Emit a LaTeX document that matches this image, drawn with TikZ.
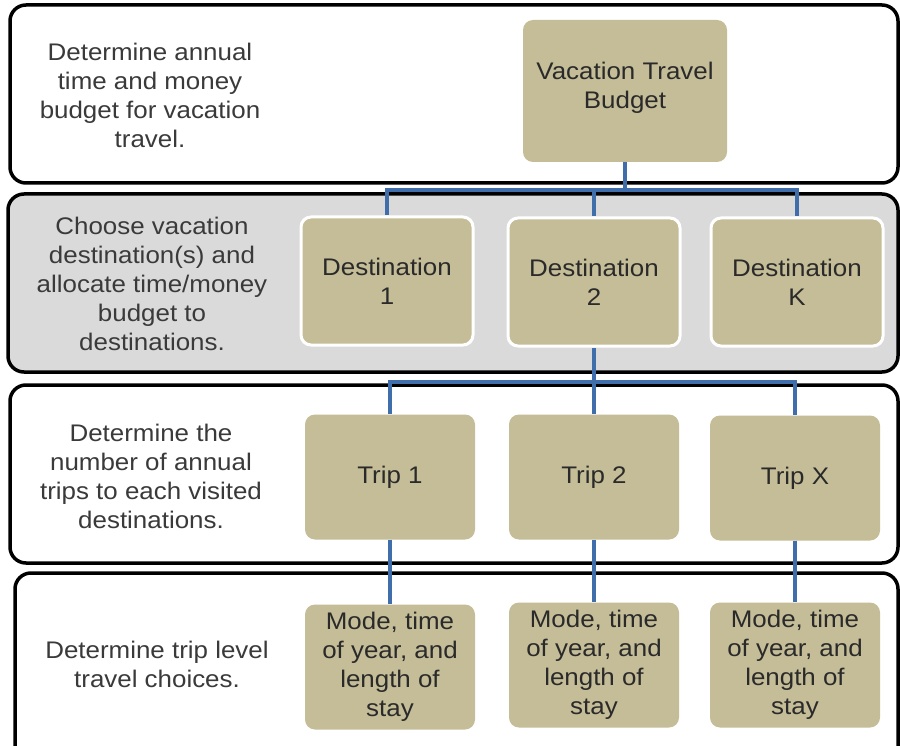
\documentclass[tikz,border=0pt]{standalone}
\usepackage{fontspec}
\setmainfont{Liberation Sans}[FakeStretch=1.08]
\definecolor{tanc}{HTML}{C4BD97}
\definecolor{bandgray}{HTML}{DADADA}
\definecolor{linec}{HTML}{3F6EAA}
\definecolor{labc}{HTML}{3A3A3A}
\definecolor{boxtxt}{HTML}{2A2A2A}
\tikzset{
  band/.style={draw=black, line width=3.5pt, rounded corners=16pt},
  tanbox/.style={fill=tanc, draw=none, rounded corners=10pt, align=center,
    text=boxtxt, font=\fontsize{24}{29}\selectfont, inner sep=0pt},
  destbox/.style={tanbox, draw=white, line width=3pt, minimum width=172pt, minimum height=128pt},
  tripbox/.style={tanbox, minimum width=170pt, minimum height=125pt},
  lab/.style={align=center, text=labc, font=\fontsize{24}{29}\selectfont, inner sep=0pt},
  conn/.style={draw=linec, line width=3.8pt}
}
\begin{document}
\begin{tikzpicture}[x=1pt,y=-1pt]
\useasboundingbox (0,0) rectangle (900,746);
\begin{scope}
\clip (0,0) rectangle (900,746);
% bands
\draw[band, fill=white] (10,5) rectangle (898,183);
\draw[band, fill=bandgray] (8,194) rectangle (898,372);
\draw[band, fill=white] (10,385) rectangle (898,563);
\draw[band, fill=white] (15,573) rectangle (898,780);
\end{scope}
% left labels
\node[lab] (l1) at (150,95) {Determine annual\\time and money\\budget for vacation\\travel.};
\node[lab] (l2) at (152,284) {Choose vacation\\destination(s) and\\allocate time/money\\budget to\\destinations.};
\node[lab] (l3) at (151,476) {Determine the\\number of annual\\trips to each visited\\destinations.};
\node[lab] (l4) at (157,664) {Determine trip level\\travel choices.};
% top box
\node[tanbox, minimum width=204pt, minimum height=142pt] (vtb) at (625,91) {};
\node[lab, text=boxtxt] (vtbt) at (625,88) {Vacation Travel\\Budget};
% destinations
\node[destbox] (d1) at (387,281) {Destination\\1};
\node[destbox] (d2) at (594,282) {Destination\\2};
\node[destbox] (dk) at (797,282) {Destination\\K};
% trips
\node[tripbox] (t1) at (390,477) {Trip 1};
\node[tripbox] (t2) at (594,477) {Trip 2};
\node[tripbox] (t3) at (795,478) {Trip X};
% modes
\node[tripbox] (m1) at (390,667) {Mode, time\\of year, and\\length of\\stay};
\node[tripbox] (m2) at (594,665) {Mode, time\\of year, and\\length of\\stay};
\node[tripbox] (m3) at (795,665) {Mode, time\\of year, and\\length of\\stay};
% connectors
\coordinate (j1) at (625,190);
\coordinate (j2) at (594,382);
\draw[conn] (vtb.south) -- (j1) -| (d1.north);
\draw[conn] (j1) -| (d2.north);
\draw[conn] (j1) -| (dk.north);
\draw[conn] (d2.south) -- (j2) -| (t1.north);
\draw[conn] (j2) -| (t3.north);
\draw[conn] (j2) -- (t2.north);
\draw[conn] (t1.south) -- (m1.north);
\draw[conn] (t2.south) -- (m2.north);
\draw[conn] (t3.south) -- (m3.north);
\end{tikzpicture}
\end{document}
